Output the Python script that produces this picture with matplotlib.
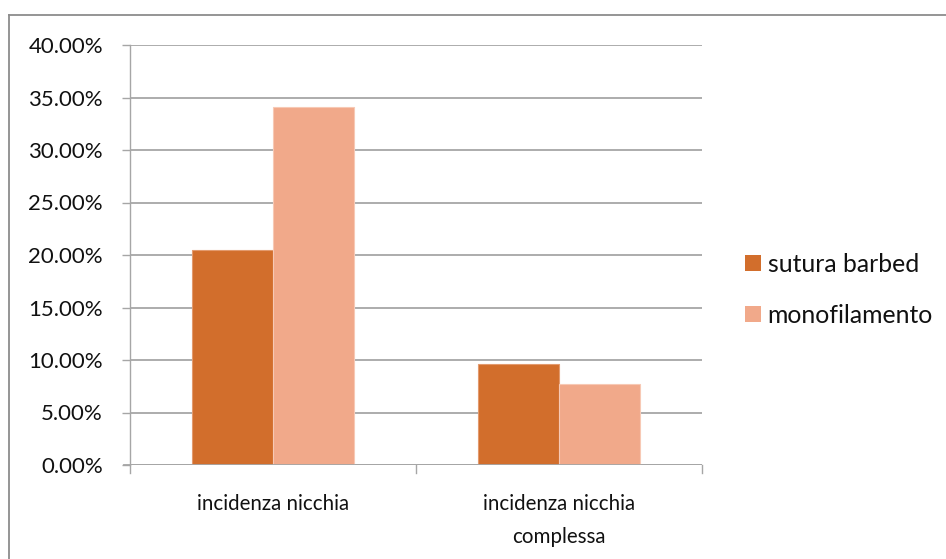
import matplotlib
matplotlib.use("Agg")
import matplotlib.pyplot as plt
from matplotlib.lines import Line2D
from matplotlib.patches import Patch
import numpy as np

categories = ["incidenza nicchia", "incidenza nicchia\ncomplessa"]
series_names = ["sutura barbed", "monofilamento"]
sutura_barbed = [20.5, 9.6]
monofilamento = [34.1, 7.7]
y_ticks = [0, 5, 10, 15, 20, 25, 30, 35, 40]

colors = ["#D26E2C", "#F1A98A"]
edge_colors = ["#E39A6E", "#F7C9B5"]
grid_color = "#A6A6A6"
text_color = "#111111"

plt.rcParams["font.family"] = ["Lato", "DejaVu Sans"]

W, H = 946, 559
fig = plt.figure(figsize=(W / 100, H / 100), dpi=100)

# plot area in pixels: x 130..702, y 45..465
left, right, top, bottom = 130, 702, 45, 465
ax = fig.add_axes([left / W, 1 - bottom / H, (right - left) / W, (bottom - top) / H])

x = np.arange(len(categories))
bar_w = 0.283
for i, (vals, name) in enumerate(zip([sutura_barbed, monofilamento], series_names)):
    offs = (i - 0.5) * bar_w
    ax.bar(x + offs, vals, width=bar_w, color=colors[i], edgecolor=edge_colors[i],
           linewidth=0.8, label=name, zorder=3)

ax.set_xlim(-0.5, len(categories) - 0.5)
ax.set_ylim(0, 40)
ax.set_yticks(y_ticks)
ax.set_yticklabels([f"{v:.2f}%" for v in y_ticks], fontsize=16, color=text_color)
ax.yaxis.grid(True, color=grid_color, linewidth=1.3, zorder=0)
ax.set_axisbelow(True)

ax.set_xticks(x)
ax.set_xticklabels(categories, fontsize=14.8, color=text_color, linespacing=1.78)
ax.tick_params(axis="x", length=0, pad=21)
ax.tick_params(axis="y", length=5.5, color=grid_color, width=1.0, pad=14)

# category boundary ticks on the x axis
for b in np.arange(-0.5, len(categories), 1.0):
    ax.plot([b, b], [0, -0.02], transform=ax.get_xaxis_transform(), color=grid_color,
            linewidth=1.0, clip_on=False)

for s in ["top", "right", "bottom"]:
    ax.spines[s].set_visible(False)
ax.spines["left"].set_color(grid_color)
ax.spines["left"].set_linewidth(1.0)
ax.axhline(0, color=grid_color, linewidth=1.3, zorder=4)
ax.plot([-0.5 - 6 / (right - left) * 2, -0.5], [0, 0], color=grid_color, linewidth=1.3,
        clip_on=False)

handles = [Patch(facecolor=colors[i], edgecolor="none", label=series_names[i]) for i in range(2)]
fig.legend(handles=handles, loc="center left", bbox_to_anchor=(723 / W, 1 - 290 / H),
           frameon=False, fontsize=17.8, handlelength=0.62, handleheight=0.62,
           handletextpad=0.28, labelspacing=1.14, labelcolor=text_color)

# outer chart frame
fig.add_artist(Line2D([8.5 / W, 8.5 / W], [0, 1 - 15 / H], transform=fig.transFigure,
                      color="#8c8c8c", linewidth=1.3))
fig.add_artist(Line2D([8.5 / W, 1], [1 - 15 / H, 1 - 15 / H], transform=fig.transFigure,
                      color="#8c8c8c", linewidth=1.3))

fig.savefig("out.png", dpi=100)
